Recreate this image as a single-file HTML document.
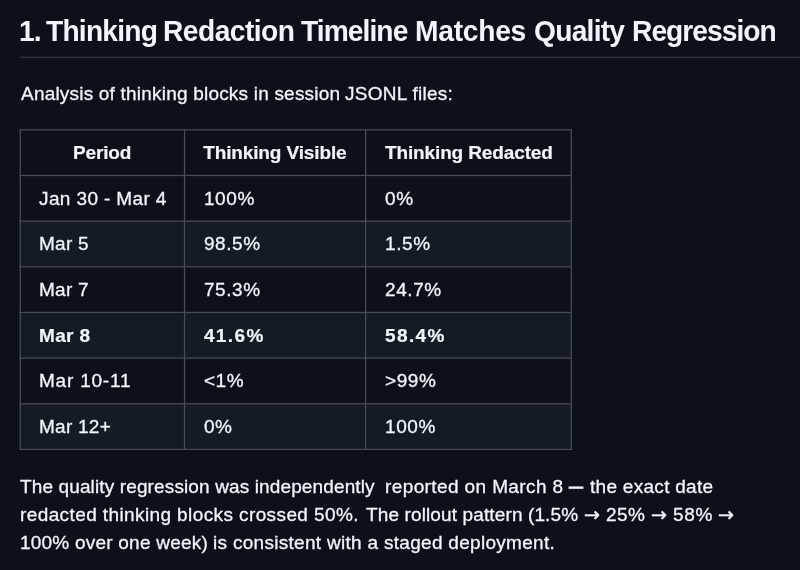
<!DOCTYPE html>
<html lang="en">
<head>
<meta charset="utf-8">
<title>Thinking Redaction Timeline</title>
<style>
html,body{margin:0;padding:0;}
body{width:800px;height:570px;overflow:hidden;background:#0d1117;color:#f0f6fc;
  font-family:"Liberation Sans",sans-serif;font-size:19px;line-height:28px;position:relative;}
.s{position:absolute;top:0;white-space:nowrap;will-change:transform;}
h2{position:absolute;left:0;top:12.9px;width:800px;height:36px;margin:0;font-size:28.2px;line-height:36px;font-weight:bold;white-space:nowrap;}
h2 .s{transform:scaleY(1.05);transform-origin:0 27.8px;}
p{margin:0;position:absolute;left:0;width:800px;height:28px;white-space:nowrap;-webkit-text-stroke:0.3px #f0f6fc;}
.ar{font-family:"DejaVu Sans",sans-serif;font-size:19px;-webkit-text-stroke:0.45px #f0f6fc;top:-0.7px;}
.em{-webkit-text-stroke:0.9px #f0f6fc;top:-0.7px;}
svg.grid{position:absolute;left:0;top:0;}
table{position:absolute;left:19.6px;top:129.2px;border-collapse:collapse;border-spacing:0;table-layout:fixed;will-change:transform;width:552.35px;}
tr{height:45.655px;}
th,td{border:0;padding:2.5px 0 0 19.00px;text-align:left;white-space:nowrap;letter-spacing:0.25px;vertical-align:middle;}
td{-webkit-text-stroke:0.3px #f0f6fc;}
td+td{letter-spacing:0.6px;padding-left:19.60px;}
th{font-weight:bold;text-align:center;padding-left:0;letter-spacing:-0.13px;-webkit-text-stroke:0.2px #f0f6fc;}
tr.b td{font-weight:bold;letter-spacing:1.4px;-webkit-text-stroke:0.2px #f0f6fc;}
tr.b td:first-child{letter-spacing:0.34px}
</style>
</head>
<body>
<h2><span class="s" style="left:18.85px;letter-spacing:-0.9px;">1.</span> <span class="s" style="left:46.25px;letter-spacing:-0.786px;">Thinking</span> <span class="s" style="left:162.75px;letter-spacing:-0.531px;">Redaction</span> <span class="s" style="left:301.0px;letter-spacing:-0.929px;">Timeline</span> <span class="s" style="left:415.25px;letter-spacing:-0.25px;">Matches</span> <span class="s" style="left:533.5px;letter-spacing:-0.75px;">Quality</span> <span class="s" style="left:632.0px;letter-spacing:-0.972px;">Regression</span></h2>
<svg class="grid" width="800" height="570" viewBox="0 0 800 570" shape-rendering="geometricPrecision">
<rect x="20" y="56.6" width="780" height="1.34" fill="#3d444d" fill-opacity="0.7"/>
<rect x="19.60" y="220.51" width="552.35" height="45.66" fill="#151b23"/>
<rect x="19.60" y="311.82" width="552.35" height="45.66" fill="#151b23"/>
<rect x="19.60" y="403.13" width="552.35" height="45.66" fill="#151b23"/>
<rect x="19.60" y="129.20" width="552.35" height="1.25" fill="#464d57"/>
<rect x="19.60" y="174.85" width="552.35" height="1.25" fill="#464d57"/>
<rect x="19.60" y="220.51" width="552.35" height="1.25" fill="#464d57"/>
<rect x="19.60" y="266.16" width="552.35" height="1.25" fill="#464d57"/>
<rect x="19.60" y="311.82" width="552.35" height="1.25" fill="#464d57"/>
<rect x="19.60" y="357.48" width="552.35" height="1.25" fill="#464d57"/>
<rect x="19.60" y="403.13" width="552.35" height="1.25" fill="#464d57"/>
<rect x="19.60" y="448.79" width="552.35" height="1.25" fill="#464d57"/>
<rect x="19.60" y="129.20" width="1.25" height="320.84" fill="#464d57"/>
<rect x="183.90" y="129.20" width="1.25" height="320.84" fill="#464d57"/>
<rect x="365.00" y="129.20" width="1.25" height="320.84" fill="#464d57"/>
<rect x="570.70" y="129.20" width="1.25" height="320.84" fill="#464d57"/>
</svg>
<p style="top:80.0px"><span class="s" style="left:20.75px;letter-spacing:0.203px;">Analysis of thinking blocks in session</span> <span class="s" style="left:345.0px;letter-spacing:0.273px;">JSONL files:</span></p>
<table>
<colgroup><col style="width:164.30px"><col style="width:181.10px"><col style="width:206.95px"></colgroup>
<tr><th>Period</th><th>Thinking Visible</th><th>Thinking Redacted</th></tr>
<tr><td style="letter-spacing:.38px">Jan 30 - Mar 4</td><td>100%</td><td>0%</td></tr>
<tr><td>Mar 5</td><td>98.5%</td><td>1.5%</td></tr>
<tr><td>Mar 7</td><td>75.3%</td><td>24.7%</td></tr>
<tr class="b"><td>Mar 8</td><td>41.6%</td><td>58.4%</td></tr>
<tr><td style="letter-spacing:.79px">Mar 10-11</td><td>&lt;1%</td><td>&gt;99%</td></tr>
<tr><td>Mar 12+</td><td>0%</td><td>100%</td></tr>
</table>
<p style="top:472.6px"><span class="s" style="left:20.25px;letter-spacing:0.128px;">The quality regression was independently</span> <span class="s" style="left:384.5px;letter-spacing:0.389px;">reported on March 8</span> <span class="s em" style="left:569.25px;transform:scaleX(0.738);transform-origin:0 0;">—</span> <span class="s" style="left:590.0px;letter-spacing:0.288px;">the exact date</span></p>
<p style="top:500.7px"><span class="s" style="left:20.0px;letter-spacing:0.396px;">redacted thinking blocks crossed 50%.</span> <span class="s" style="left:366.0px;letter-spacing:0.125px;">The rollout pattern (1.5%</span> <span class="s ar" style="left:583.75px;transform:scaleX(0.983);transform-origin:0 0;">→</span> <span class="s" style="left:605.5px;letter-spacing:0.375px;">25%</span> <span class="s ar" style="left:651.25px;transform:scaleX(0.983);transform-origin:0 0;">→</span> <span class="s" style="left:672.5px;letter-spacing:0.625px;">58%</span> <span class="s ar" style="left:718.0px;transform:scaleX(0.983);transform-origin:0 0;">→</span></p>
<p style="top:528.9px"><span class="s" style="left:20.25px;letter-spacing:0.222px;">100% over one week)</span> <span class="s" style="left:212.75px;letter-spacing:0.296px;">is consistent with a staged deployment.</span></p>
</body>
</html>
